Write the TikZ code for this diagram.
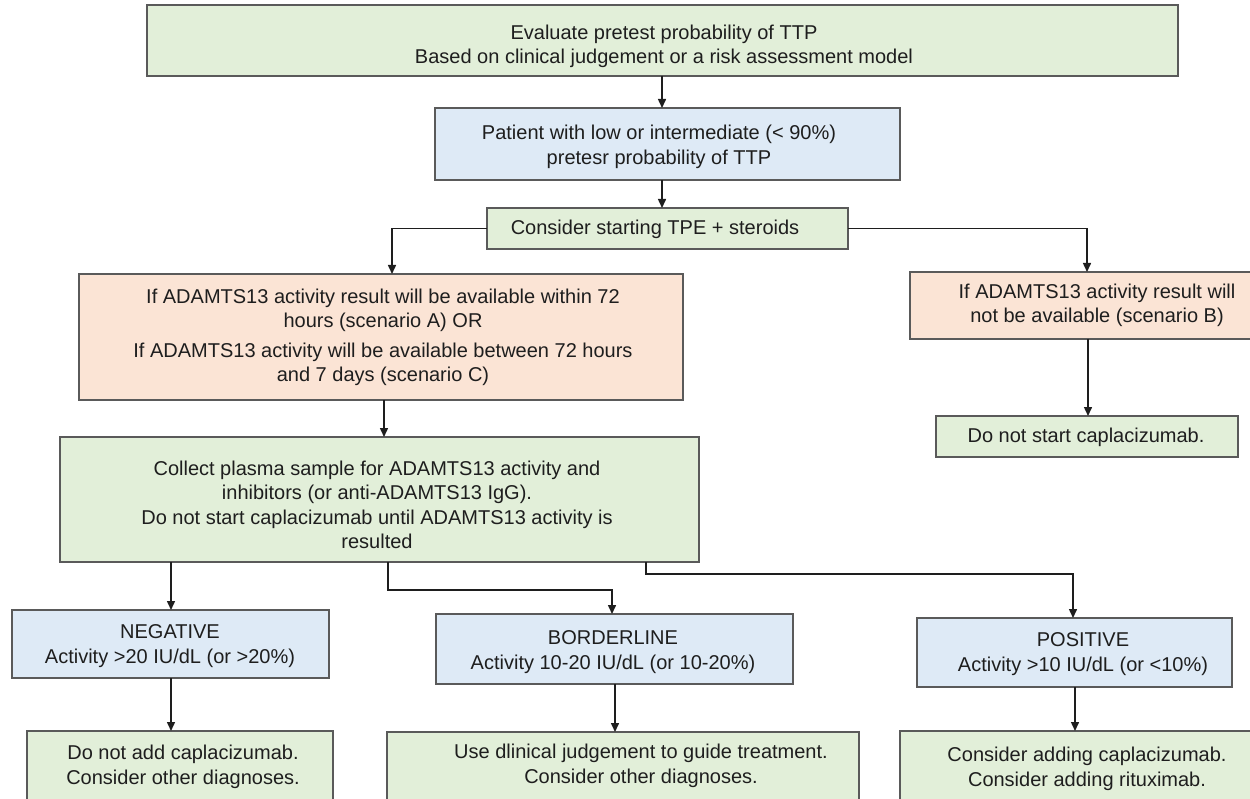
\documentclass[tikz,border=0pt]{standalone}
\usepackage{fontspec}
\setmainfont{Liberation Sans}
\usetikzlibrary{arrows.meta}

\definecolor{boxgreen}{HTML}{E2EFD9}
\definecolor{boxblue}{HTML}{DEEAF6}
\definecolor{boxpeach}{HTML}{FBE4D5}
\definecolor{edgegrey}{HTML}{5A5A5A}
\definecolor{inkgrey}{HTML}{1E1E1E}

% a framed panel given by its top-left and bottom-right corners
\newcommand\flowpanel[6]{%
  \node[#2, anchor=north west, minimum width={(#5)-(#3)}, minimum height={(#6)-(#4)}] (#1) at (#3,#4) {};}

\begin{document}
\begin{tikzpicture}[x=1pt, y=-1pt,
  panel/.style={draw=edgegrey, line width=1.5pt, inner sep=0pt, outer sep=0pt},
  greenpanel/.style={panel, fill=boxgreen},
  bluepanel/.style={panel, fill=boxblue},
  peachpanel/.style={panel, fill=boxpeach},
  txt/.style={align=center, text=inkgrey, inner sep=0pt, font=\fontsize{20}{24.5}\selectfont},
  link/.style={draw=inkgrey, line width=1.5pt, -{Triangle[length=9pt,width=8pt]}}]

\useasboundingbox (0,0) rectangle (1250,799);
\clip (0,0) rectangle (1250,799);

% panels
\flowpanel{top}{greenpanel}{147}{5}{1178}{76}
\flowpanel{patient}{bluepanel}{435}{108}{900}{180}
\flowpanel{tpe}{greenpanel}{487}{208}{848}{249}
\flowpanel{scenAC}{peachpanel}{79}{274}{683}{400}
\flowpanel{scenB}{peachpanel}{910}{272}{1284}{339}
\flowpanel{nocapla}{greenpanel}{936}{416}{1238}{457}
\flowpanel{collect}{greenpanel}{60}{437}{699}{562}
\flowpanel{neg}{bluepanel}{12}{610}{329}{678}
\flowpanel{border}{bluepanel}{436}{614}{793}{684}
\flowpanel{pos}{bluepanel}{917}{618}{1232}{687}
\flowpanel{negact}{greenpanel}{27}{731}{333}{830}
\flowpanel{borderact}{greenpanel}{387}{732}{859}{830}
\flowpanel{posact}{greenpanel}{900}{731}{1276}{830}

% texts
\node[txt] (topT) at (664,46.5) {Evaluate pretest probability of TTP\\Based on clinical judgement or a risk assessment model};
\node[txt] (patientT) at (659,147) {Patient with low or intermediate (< 90\%)\\pretesr probability of TTP};
\node[txt] (tpeT) at (655,229) {Consider starting TPE + steroids};
\node[txt] (scenACT) at (383,337.5) {If ADAMTS13 activity result will be available within 72\\hours (scenario A) OR\\[5pt]If ADAMTS13 activity will be available between 72 hours\\and 7 days (scenario C)};
\node[txt] (scenBT) at (1097,305.5) {If ADAMTS13 activity result will\\not be available (scenario B)};
\node[txt] (nocaplaT) at (1086,437) {Do not start caplacizumab.};
\node[txt] (collectT) at (377,505) {Collect plasma sample for ADAMTS13 activity and\\inhibitors (or anti-ADAMTS13 IgG).\\Do not start caplacizumab until ADAMTS13 activity is\\resulted};
\node[txt] (negT) at (170,646) {NEGATIVE\\Activity >20 IU/dL (or >20\%)};
\node[txt] (borderT) at (613,652) {BORDERLINE\\Activity 10-20 IU/dL (or 10-20\%)};
\node[txt] (posT) at (1083,654) {POSITIVE\\Activity >10 IU/dL (or <10\%)};
\node[txt] (negactT) at (183,767) {Do not add caplacizumab.\\Consider other diagnoses.};
\node[txt] (borderactT) at (641,766) {Use dlinical judgement to guide treatment.\\Consider other diagnoses.};
\node[txt] (posactT) at (1087,769) {Consider adding caplacizumab.\\Consider adding rituximab.};

% connectors
\draw[link] (top.south -| 662,0) -- (patient.north -| 662,0);
\draw[link] (patient.south -| 662,0) -- (tpe.north -| 662,0);
\draw[link] (tpe.west) -| (scenAC.north -| 392,0);
\draw[link] (tpe.east) -| (scenB.north -| 1087,0);
\draw[link] (scenB.south -| 1088,0) -- (nocapla.north -| 1088,0);
\draw[link] (scenAC.south -| 384,0) -- (collect.north -| 384,0);
\draw[link] (collect.south -| 171,0) -- (neg.north -| 171,0);
\draw[link] (collect.south -| 388,0) -- ++(0,28) -| (border.north -| 612,0);
\draw[link] (collect.south -| 646,0) -- ++(0,12) -| (pos.north -| 1073,0);
\draw[link] (neg.south -| 171,0) -- (negact.north -| 171,0);
\draw[link] (border.south -| 615,0) -- (borderact.north -| 615,0);
\draw[link] (pos.south -| 1075,0) -- (posact.north -| 1075,0);
\end{tikzpicture}
\end{document}
